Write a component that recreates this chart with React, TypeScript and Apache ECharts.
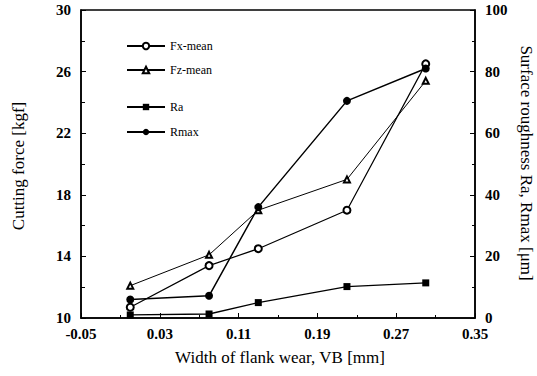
import React, { useEffect, useRef } from "react";
import * as echarts from "echarts";

const xValues = [0.0, 0.08, 0.13, 0.22, 0.3];
const fxMean = [10.7, 13.4, 14.5, 17.0, 26.5];
const fzMean = [12.1, 14.1, 17.0, 19.0, 25.4];
const ra = [1.0, 1.3, 5.0, 10.2, 11.4];
const rmax = [6.0, 7.2, 36.0, 70.5, 81.0];

const seriesNames = ["Fx-mean", "Fz-mean", "Ra", "Rmax"];
const xTitle = "Width of flank wear, VB [mm]";
const yLeftTitle = "Cutting force [kgf]";
const yRightTitle = "Surface roughness Ra, Rmax [\u03bcm]";

const FONT = "Liberation Serif";

function pairs(ys: number[]) {
  return xValues.map((x, i) => [x, ys[i]]);
}

export default function App() {
  const ref = useRef<HTMLDivElement>(null);
  useEffect(() => {
    if (!ref.current) return;
    const chart = echarts.init(ref.current, null, { renderer: "svg" });
    const tickLabel = { color: "#000", fontFamily: FONT, fontSize: 15, fontWeight: "bold" as const };
    const legendTops = [35, 59, 96, 121];
    chart.setOption({
      animation: false,
      backgroundColor: "#fff",
      textStyle: { fontFamily: FONT },
      grid: { left: 81, right: 62, top: 10, bottom: 58, show: true, borderColor: "#000", borderWidth: 1.5 },
      legend: seriesNames.map((n, i) => ({
        data: [n],
        left: 121,
        top: legendTops[i],
        itemWidth: 38,
        itemHeight: 8,
        textStyle: { fontFamily: FONT, fontSize: 12, color: "#000" },
        itemGap: 2,
      })),
      xAxis: {
        type: "value",
        min: -0.05,
        max: 0.35,
        interval: 0.08,
        axisLine: { onZero: false, lineStyle: { color: "#000", width: 1.5 } },
        axisTick: { inside: true, length: 5, lineStyle: { color: "#000" } },
        minorTick: { show: true, splitNumber: 2, length: 3, lineStyle: { color: "#000" } },
        splitLine: { show: false },
        axisLabel: { ...tickLabel, margin: 8, formatter: (v: number) => v.toFixed(2) },
      },
      yAxis: [
        {
          type: "value",
          min: 10,
          max: 30,
          interval: 4,
          position: "left",
          axisLine: { show: true, onZero: false, lineStyle: { color: "#000", width: 1.5 } },
          axisTick: { show: true, inside: true, length: 5, lineStyle: { color: "#000" } },
          minorTick: { show: true, splitNumber: 2, length: 4, lineStyle: { color: "#000" } },
          splitLine: { show: false },
          axisLabel: { ...tickLabel, margin: 10 },
        },
        {
          type: "value",
          min: 0,
          max: 100,
          interval: 20,
          position: "right",
          axisLine: { show: true, onZero: false, lineStyle: { color: "#000", width: 1.5 } },
          axisTick: { show: true, inside: true, length: 5, lineStyle: { color: "#000" } },
          minorTick: { show: true, splitNumber: 2, length: 3, lineStyle: { color: "#000" } },
          splitLine: { show: false },
          axisLabel: { ...tickLabel, margin: 10 },
        },
      ],
      series: [
        {
          name: seriesNames[0],
          type: "line",
          yAxisIndex: 0,
          data: pairs(fxMean),
          symbol: "emptyCircle",
          symbolSize: 7,
          lineStyle: { color: "#000", width: 1.2 },
          itemStyle: { color: "#000", borderColor: "#000", borderWidth: 1 },
        },
        {
          name: seriesNames[1],
          type: "line",
          yAxisIndex: 0,
          data: pairs(fzMean),
          symbol: "emptyTriangle",
          symbolSize: 6,
          lineStyle: { color: "#000", width: 1 },
          itemStyle: { color: "#000", borderColor: "#000", borderWidth: 1 },
        },
        {
          name: seriesNames[2],
          type: "line",
          yAxisIndex: 1,
          data: pairs(ra),
          symbol: "rect",
          symbolSize: 7,
          lineStyle: { color: "#000", width: 1.3 },
          itemStyle: { color: "#000" },
        },
        {
          name: seriesNames[3],
          type: "line",
          yAxisIndex: 1,
          data: pairs(rmax),
          symbol: "circle",
          symbolSize: 8,
          lineStyle: { color: "#000", width: 1.5 },
          itemStyle: { color: "#000" },
        },
      ],
      graphic: [
        {
          type: "text",
          x: 280,
          y: 357,
          style: { text: xTitle, fontFamily: FONT, fontSize: 17, fill: "#000", align: "center", verticalAlign: "middle" },
        },
        {
          type: "text",
          x: 18,
          y: 166,
          rotation: Math.PI / 2,
          style: { text: yLeftTitle, fontFamily: FONT, fontSize: 17, fill: "#000", align: "center", verticalAlign: "middle" },
        },
        {
          type: "text",
          x: 526,
          y: 163,
          rotation: -Math.PI / 2,
          style: { text: yRightTitle, fontFamily: FONT, fontSize: 17, fill: "#000", align: "center", verticalAlign: "middle" },
        },
      ],
    });
    return () => chart.dispose();
  }, []);
  return <div ref={ref} style={{ width: 537, height: 376, position: "absolute", left: 0, top: 0 }} />;
}
